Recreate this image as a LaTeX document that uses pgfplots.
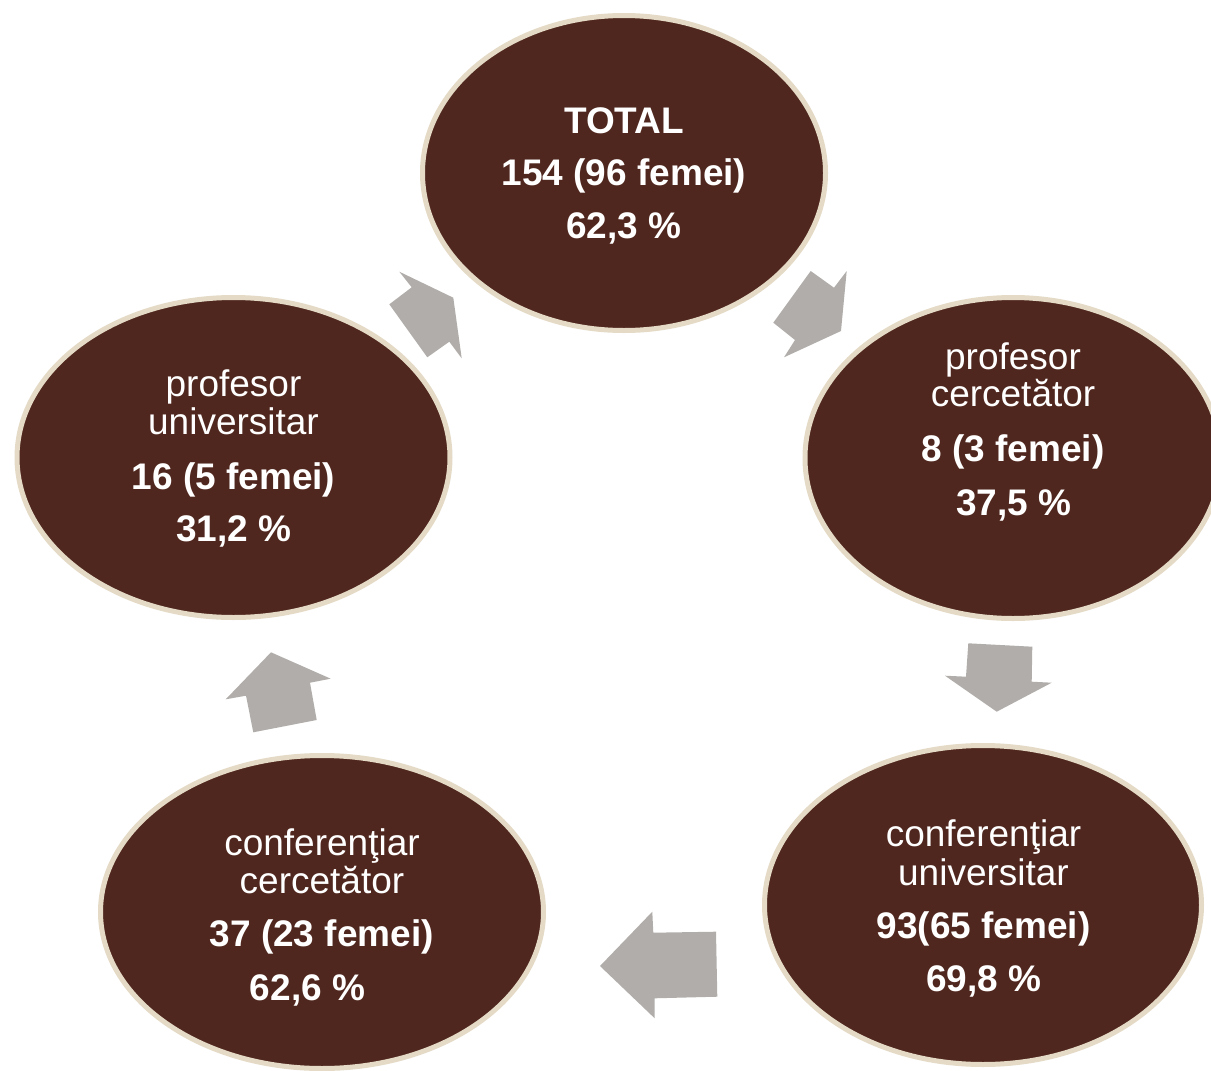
\documentclass[border=0pt]{standalone}
\usepackage{fontspec}
\setmainfont{Liberation Sans}
\usepackage{pgfplots}
\pgfplotsset{compat=1.18}
\definecolor{cellfill}{HTML}{50271E}
\definecolor{cellborder}{HTML}{E4DAC6}
\definecolor{arrowgray}{HTML}{B1ADAA}
\newcommand{\reg}{\fontsize{18.5}{22}\selectfont}
\newcommand{\bld}{\fontsize{18.5}{22}\selectfont\bfseries}
\tikzset{lbl/.style={text=white, anchor=base, inner sep=0pt}}
\begin{document}
\begin{tikzpicture}
\begin{axis}[
  width=605.5pt, height=535.5pt, scale only axis,
  xmin=0, xmax=1211, ymin=0, ymax=1071, y dir=reverse,
  axis lines=none, clip=true, clip marker paths=true,
]
\coordinate (BBa) at (axis cs:0,0);
\coordinate (BBb) at (axis cs:1211,1071);
% arrows
\addplot[fill=arrowgray, draw=none] coordinates {
 (453.3,297.7) (399.3,271.7) (411.7,287.3) (389.3,304.3) (427.3,357.3) (449.3,341.7) (461.7,358.3)} -- cycle;
\addplot[fill=arrowgray, draw=none] coordinates {
 (841,331) (846.7,271) (834,287.7) (810.7,271) (773.3,322.7) (795,340) (784,357.3)} -- cycle;
\addplot[fill=arrowgray, draw=none] coordinates {
 (996.7,711.7) (1051.7,682.7) (1031.7,681.7) (1032.3,646.7) (968.3,643.3) (966,676.7) (945,675.7)} -- cycle;
\addplot[fill=arrowgray, draw=none] coordinates {
 (600,966) (652.3,911.7) (653.3,932.7) (716,931.7) (717.3,996.7) (654.7,998.3) (654.7,1018.3)} -- cycle;
\addplot[fill=arrowgray, draw=none] coordinates {
 (271,652.3) (330.7,678.7) (310,682.7) (316.7,720) (253.3,732.3) (246,695.7) (225.7,699.3)} -- cycle;
% ellipses (centre; mark size = inner y radius in pt, xscale = rx/ry)
\addplot[only marks, mark=*, mark size=78.75pt,
  mark options={xscale=1.2794, fill=cellfill, draw=cellborder, line width=2.5pt}]
  coordinates {(624,173)};
\addplot[only marks, mark=*, mark size=80.25pt,
  mark options={xscale=1.2960, fill=cellfill, draw=cellborder, line width=2.5pt}]
  coordinates {(1013,458)};
\addplot[only marks, mark=*, mark size=79.75pt,
  mark options={xscale=1.3699, fill=cellfill, draw=cellborder, line width=2.5pt}]
  coordinates {(983,905)};
\addplot[only marks, mark=*, mark size=78.25pt,
  mark options={xscale=1.4153, fill=cellfill, draw=cellborder, line width=2.5pt}]
  coordinates {(322,912)};
\addplot[only marks, mark=*, mark size=80.0pt,
  mark options={xscale=1.3531, fill=cellfill, draw=cellborder, line width=2.5pt}]
  coordinates {(233.5,457.5)};
% texts
\node[lbl, font=\bld] at (axis cs:624,133) {TOTAL};
\node[lbl, font=\bld] at (axis cs:624,185) {154 (96 femei)};
\node[lbl, font=\bld] at (axis cs:624,238.3) {62,3 \%};

\node[lbl, font=\reg] at (axis cs:1013,369) {profesor};
\node[lbl, font=\reg] at (axis cs:1013,406.7) {cercetător};
\node[lbl, font=\bld] at (axis cs:1013,461) {8 (3 femei)};
\node[lbl, font=\bld] at (axis cs:1014,515) {37,5 \%};

\node[lbl, font=\reg] at (axis cs:983.5,846.7) {conferenţiar};
\node[lbl, font=\reg] at (axis cs:983.5,885.7) {universitar};
\node[lbl, font=\bld] at (axis cs:983.5,938) {93(65 femei)};
\node[lbl, font=\bld] at (axis cs:984,991.7) {69,8 \%};

\node[lbl, font=\reg] at (axis cs:322,855) {conferenţiar};
\node[lbl, font=\reg] at (axis cs:322,893) {cercetător};
\node[lbl, font=\bld] at (axis cs:321.7,946.7) {37 (23 femei)};
\node[lbl, font=\bld] at (axis cs:307.5,1000) {62,6 \%};

\node[lbl, font=\reg] at (axis cs:233.5,396) {profesor};
\node[lbl, font=\reg] at (axis cs:233.5,434) {universitar};
\node[lbl, font=\bld] at (axis cs:233.5,489) {16 (5 femei)};
\node[lbl, font=\bld] at (axis cs:234,541.7) {31,2 \%};
\end{axis}
\pgfresetboundingbox
\path (BBa) rectangle (BBb);
\end{tikzpicture}
\end{document}
